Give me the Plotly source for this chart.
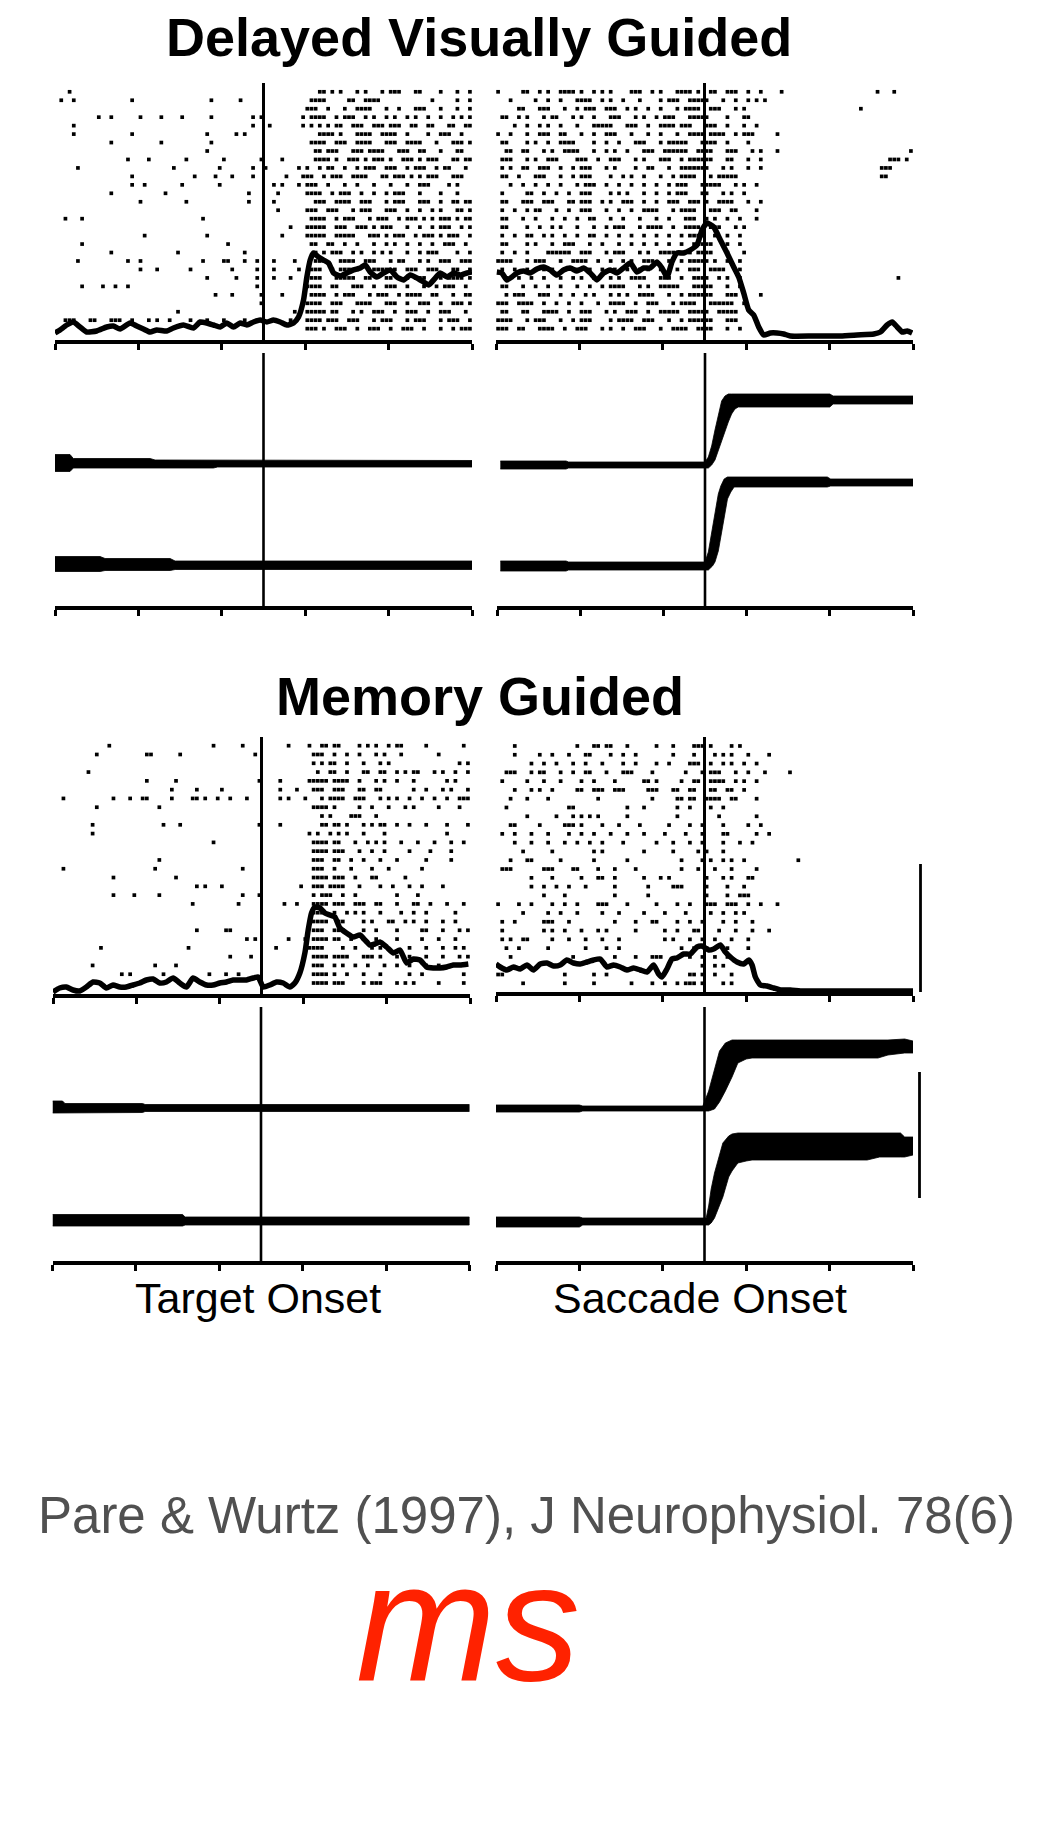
import plotly.graph_objects as go

W, H = 1054, 1824

# ---------------- data ----------------
TIME_RANGE_MS = [-250, 250]
TICK_MS = [-250, -150, -50, 50, 150, 250]
EVENT_MS = 0
BIN_MS = 5  # raster token k -> spike in bin starting at -250 + 5k ms

TITLES = ["Delayed Visually Guided", "Memory Guided"]
ALIGN_LABELS = ["Target Onset", "Saccade Onset"]
CITATION = "Pare & Wurtz (1997), J Neurophysiol. 78(6)"
UNIT_LABEL = "ms"

# Raster rows, top trial first. Tokens are 5-ms bin indices or ranges "a-b".
DVG_TARGET_RASTER = [
    "3 63-64 66 68 72 74 78 80-82 86-87 92 96 99",
    "1 4 18 37 44 61-64 70-71 74-77 90 96 99",
    "60-62 65 69 72-75 79 82 86-88 92 96 99",
    "10 13 20 25 30 37 47 49 59 61-64 67 69-71 74 76 79 81 84 86 89 92 95 97 99",
    "4 47 51 59 61 63 65 67-68 71-73 76-78 80-82 85-86 89-90 94-95 98-99",
    "4 18 36 43 45 63-66 68 72-75 78-81 84 89 92-94 97",
    "13 25 37 61-64 67-69 72-75 79-81 84-87 91 95-97 99",
    "36 62-63 65-67 71-73 75-78 82-84 87-88 92 96-97",
    "17 22 31 40 49 54 62-65 67 70-72 74 76-78 80 83-85 87 89-91 95-96 98-99",
    "5 28 39 47 50 58 60 63 65-66 69 72 74-76 79-81 84 86-88 91 93-94 98",
    "18 33 38 42 47 55 59-61 64 66-68 71-74 78-79 81-83 85 87 89-91 95-97",
    "18 21 30 39 52 54 58 60-62 65 69 72 76 80 84 87-89 94 96",
    "13 26 46 53 60-63 66 68-70 73 76 79 81-83 87 92 96",
    "20 31 46 52 62-64 67-70 73-75 79 81-83 87-89 92 95-96 98-99",
    "53 60-62 65-67 71 73-75 79-81 84 87 90 92 96-97 99",
    "2 6 35 61-64 67 69-71 75 77-79 82 84-86 88 90 92-94 96 98-99",
    "56 60-64 67-69 72-74 76 78-80 84 87 90 92-94 97 99",
    "21 36 54 60-64 67-71 75-77 79 81-83 86 88-90 92 94-96 99",
    "6 41 61-62 65-66 69 72 76 79 81 84 87 90 93-95 98",
    "13 29 45 62 64 66-68 71 73 76 78 80 84 87 89-91 96 99",
    "5 17 20 35 40 41 45 48 52 57 62-64 68-71 74-76 80 82-83 87 89 92-94 97-99",
    "20 24 32 42 48 52 58 61-63 66 68-72 76-79 81 84-86 89-91 95-96 99",
    "36 43 48 52 56 61-63 67-71 74-75 79-80 84 86-88 92 94-97 99",
    "6 11 14 17 48 60-63 66-67 71-73 76 79-81 84 88 91 93-95 98",
    "38 42 49 54 61-64 67 69-71 75 77-79 82 84-87 90-91 95 98-99",
    "49 60-63 66-68 72-75 79-81 84 87-89 92 95-97 99",
    "29 57 60-64 66-67 71 73 76-78 81 84-86 89 92-94 98",
    "2-4 8-9 13-15 18 22 24 27 32 36 40 45 48 52 56 60-63 65-67 70-72 76 78-80 84 86-88 92 94-96 99",
    "60-62 64 67-69 72 75-77 80 83-85 88 92 95 97-99",
]

DVG_SACCADE_RASTER = [
    "0 6-7 10 12 15-18 20 23 25 27 32-34 37 39 43-46 48 51-52 55-57 60 63 68 91 95",
    "3 9 12 15 19-22 25 27 30 34 39 41-43 46-50 54 57 60 62 64",
    "5-6 10-12 16 19 21-23 26-28 31 33 36 39 43 45-48 51-53 57 59 87",
    "1-2 5 7 11 13-14 18 20 23 27-29 33 35 38 40-42 46-50 55 59-60",
    "4 7 10 12 15 19 23-27 31-33 36 39-42 44-46 50-52 55 59 62",
    "0 3 7 10-12 15-16 20 23 26-28 32 36 39 43 46-49 51-54 57 59-61 67",
    "1-2 7 9 12 15-18 23 26 29 33-35 39 41-45 49-52 55 60",
    "2-3 6-7 11 13 16-19 23 26 28 31 35-37 40-45 48-51 55-57 61 63 67 99",
    "1-3 7 9 12-14 19-21 24 27-29 33 35 39-41 44 46-51 55-56 60 63 94-96 98",
    "1 3 6-7 10-12 15 18 20-22 26 28 33 36-37 41 44-50 54 56 60 63 92-94",
    "1-2 5 9-11 15 18 20-22 27 30 32 35 39 42 44-47 51 53-57 92-93",
    "3 6 9 12 15 19 21-23 26 29 32 35 38 41 43-45 49-53 57 59 62",
    "1 7-8 11 14 17 20-22 27 29 31 35 38 41 43-45 49-50 54 56 59",
    "1-2 6-8 11-13 17-18 20-22 25 27 30-32 35 38 41-43 46-48 50 53-56 60 63",
    "1 4 7 9-10 14 17 20-22 26 29 32 35-38 42 44-47 51-53 56-57 62",
    "1-2 6 9 13 16 19 22-23 27 30 34 38 41 45-47 50 52 55 58 62",
    "1-2 7 10 13 15 19 23 26 28-30 34 36-39 42 45-48 51-53 57 59",
    "1 4 7-8 11 13 16 19 22-23 26 29 32 35 38 41 44 46-49 52 55 58",
    "1-2 7 9 13 16-18 22 25 29 32 35 38 41 44 47-51 55 58",
    "1 4 7 12-17 20-22 26 28-30 34 36 39-42 46 48-51 55 59",
    "0-3 7 9-11 15 18-21 24 27 30 32 35-37 41 44 46-50 52 55 58",
    "1 4 7 11 13 16 19 22 25 28 31 34 36 39 43 46-48 51-54 58",
    "2 5 8 11 15 18 20 23 27 29 32-35 39-41 44 47-50 53 55 58 96",
    "1-2 6 9 12 15 19 22 25 27-30 34 36 39-43 47-51 55 58",
    "2 4-6 10-12 15 18 21 23 27 29 31 34-37 41 44 46-51 55-57 63",
    "0-2 5-8 11 14 17 20 24 27-30 33 36-38 42 44-47 51-56 59",
    "1-2 6-7 11-14 17 20-22 26 28 31-33 36 39-43 46-50 53-57",
    "0-3 7 9-11 15 18 20-22 27 29-32 35-37 41 44 46-51 55-57",
    "0-2 5-6 10-13 16 19-21 25 27 30 33-35 39 42-45 48-51 55 58",
]

MG_TARGET_RASTER = [
    "13 38 45 56 61 64-65 67-68 73 75 77 80 82-83 89 98",
    "10 22-23 30 48 62-64 67 70 73 77 79 83 92",
    "62 64 66-67 70 74 78 80 97 99",
    "8 63 66-67 70 74-75 78-79 82 84 86-87 91 93 96 99",
    "22 29 49 54 61-65 67-70 73 77 79 82 86 94 96",
    "28 34 40 54 58 62-64 67-69 73-74 77-78 86 89 93 95 99",
    "2 14 18 21-22 28 33-34 36 39 42 46 54 56 60 64 66-69 72-74 78 80 82 85 88 91 94 97-99",
    "10 25 62-65 67 73 76 80 84 86 92 97",
    "64 66 71-73 77",
    "9 26 30 49 54 64-65 67-68 70 74 76 78-79 82 85 89 94 99",
    "9 61 63 66 68 70 74 79 94",
    "38 62-65 67-68 72 75 77 79 83 87 91 95 98",
    "62-65 67-69 73 76 79 85 90 95",
    "25 62-64 67-68 71 74 78 82 89 95",
    "2 24 45 62-64 67 71 76 80 88",
    "14 29 62-65 67-69 72 76-77 84",
    "34 36 40 59 62-64 66-69 73 78 81 85 88 93",
    "14 19 25 45 49 62 64-66 69 72 82 87",
    "33 44 55 58 62-65 67-69 72-74 77-78 82 86-87 90 94 98",
    "62-64 67 70 72 74 78 83 86 89 96",
    "62-65 68-69 74 76 80-81 84 86 89 93 96",
    "34 41-42 62-64 67-69 74 77 82 88-89 93 97 99",
    "46 48 56 60 62-65 67-68 71 74 77 82 88 92 96",
    "11 32 53 61-64 69 72 76 78 85 89 93 96 98",
    "42 47 62-65 67-70 74-76 78 82 85 89 93 97 99",
    "9 24 29 62-64 67 69 72 75 79 82 85 89 92",
    "16 18 26 37 41 44 62-65 67 70 74 78 85 88 98",
    "62-65 67-69 74 76-78 82 84 86 92 98",
]

MG_SACCADE_RASTER = [
    "4 19 23-24 26-27 31 38 42 47-49 51 56 58",
    "4 10 13 17 21-22 27 30 33 42 47 52 54 56 60 65",
    "8 11 14 18 21 25 30 33 38 41 46-48 51 54 56 59 62",
    "2-4 8 10-11 15 18 21-22 26 30-32 37 45 49 51-53 57 60 64 70",
    "1 7 11 15 20 23 28 35-36 38 44 47-48 51-54 57 59 62",
    "4 8 10 13 19-20 23-25 28-30 36-38 42-43 46-47 51-52 55-56 59",
    "3 7 12 24 37 43-44 46-47 50-53 56-57 62",
    "2 17-18 31 35 43 46 51 54",
    "7 14 18 20 22 24 31 43 53 62",
    "3-4 10 16-18 20 25 29 34 41 46 49 54 60 63",
    "1 4 8 12 17 20 23 27 31 35 40 45 49 54-55 62 65",
    "4 8 12 16 19 22 25 30 38 42 46 49 54 58 61",
    "6 13 23 25 35 42 48 50 54",
    "3 7-8 15 23 31 44 49 51 54 56 59 72",
    "1-3 11-13 18-19 24 28 33 44 48 52 56 62",
    "8 13 20 24-25 28 35 39 41 50 54 56 60-61",
    "8 11 14 17 21 28 36 42-44 50 55 59",
    "11 16 28 36 50 55 58-60",
    "0 5 8 13 16 19 24-26 31 38 43 46 50-52 55-57 60 63 67",
    "6 12 15 19 25 29 35 40 45 51 54 57 59",
    "1 4 11-13 17 28 33 37-38 43 46 49 54 57 61",
    "1 11 13 16 20 24 26 33 40 43 47-48 53 57 61 65",
    "1 3 6-7 13 17 21 25 29 40 42 46 49 52 56 60",
    "2 5 12 21 26 29 44 47 50 52 55 60",
    "3 18 28 33 37-39 46 49 52 55",
    "49 52 54",
    "0-1 16 23 26 46-47 49 52 56",
    "6 16 23 32 37 40 43 45-47 49 54 56",
]

# Spike density functions (time ms, rate sp/s)
DVG_TARGET_SDF_T = [-250, -244, -236, -228, -220, -212, -200, -188, -180, -172, -160, -152, -144, -136, -128,
                    -116, -108, -96, -84, -76, -68, -60, -52, -44, -36, -28, -20, -12, -4, 4, 12, 20, 28, 36, 42,
                    48, 52, 56, 60, 66, 72, 78, 84, 92, 100, 108, 116, 122, 128, 136, 144, 152, 160, 168, 176,
                    184, 192, 198, 204, 212, 220, 228, 236, 244, 250]
DVG_TARGET_SDF = [7, 10, 15, 18, 13, 8, 9, 13, 14, 11, 17, 14, 11, 8, 10, 9, 12, 15, 12, 18, 17, 15, 13, 17, 13,
                  17, 15, 18, 20, 18, 20, 18, 15, 17, 23, 40, 63, 80, 87, 83, 80, 77, 67, 64, 67, 70, 72, 75, 68,
                  63, 67, 70, 63, 60, 65, 62, 58, 55, 60, 67, 63, 67, 65, 67, 68]

DVG_SACCADE_SDF_T = [-249, -243, -237, -231, -225, -217, -209, -201, -193, -185, -177, -169, -161, -153, -145,
                     -137, -129, -121, -113, -105, -97, -89, -81, -73, -65, -57, -51, -45, -39, -33, -25, -17, -9,
                     -3, 3, 11, 19, 27, 35, 41, 47, 53, 59, 65, 71, 79, 87, 95, 103, 131, 163, 183, 203, 211, 219,
                     225, 231, 237, 243, 249]
DVG_SACCADE_SDF = [68, 67, 60, 63, 67, 69, 67, 71, 73, 70, 65, 70, 72, 69, 72, 67, 60, 67, 70, 67, 72, 77, 68, 72,
                   72, 78, 72, 63, 78, 87, 87, 90, 95, 110, 117, 113, 100, 87, 73, 63, 47, 30, 25, 13, 5, 7, 7, 6,
                   4, 4, 4, 5, 6, 8, 15, 18, 13, 8, 9, 7]

MG_TARGET_SDF_T = [-250, -242, -234, -226, -218, -210, -202, -194, -186, -178, -170, -162, -154, -146, -138, -130,
                   -122, -114, -106, -98, -90, -82, -74, -66, -58, -50, -42, -34, -26, -18, -10, -4, 2, 10, 18, 26,
                   34, 40, 46, 52, 56, 60, 64, 70, 76, 82, 88, 94, 102, 110, 118, 124, 130, 136, 142, 150, 158,
                   166, 174, 182, 190, 198, 206, 214, 222, 230, 238, 248]
MG_TARGET_SDF = [2, 6, 7, 4, 3, 7, 12, 11, 6, 9, 7, 7, 9, 11, 14, 15, 11, 12, 16, 11, 7, 16, 12, 9, 9, 11, 12, 14,
                 14, 14, 16, 17, 7, 9, 12, 11, 7, 11, 21, 41, 64, 81, 87, 86, 81, 79, 77, 66, 61, 57, 59, 54, 49,
                 50, 52, 47, 41, 44, 31, 35, 34, 27, 26, 26, 27, 29, 29, 30]

MG_SACCADE_SDF_T = [-250, -245, -237, -229, -221, -213, -205, -197, -189, -181, -173, -165, -157, -149, -141, -133,
                    -125, -117, -109, -101, -93, -85, -77, -69, -61, -55, -51, -45, -39, -33, -25, -17, -9, -3, 5,
                    11, 19, 25, 31, 39, 47, 53, 57, 61, 67, 75, 83, 91, 103, 115, 131, 171, 211, 250]
MG_SACCADE_SDF = [28, 25, 22, 25, 23, 27, 22, 28, 29, 26, 27, 32, 29, 28, 30, 32, 33, 25, 27, 25, 22, 24, 22, 20,
                  27, 18, 15, 23, 33, 34, 38, 38, 45, 46, 42, 43, 47, 40, 35, 30, 28, 32, 27, 15, 7, 6, 4, 2, 2,
                  1, 1, 1, 1, 1]

# Eye position envelopes across trials (deg, display offsets): time, upper edge, lower edge
DVG_TARGET_EYE_H_T = [-250, -232, -228, -136, -130, -60, -55, 250]
DVG_TARGET_EYE_H_HI = [15.15, 15.15, 14.75, 14.75, 14.6, 14.6, 14.55, 14.55]
DVG_TARGET_EYE_H_LO = [13.45, 13.45, 13.8, 13.8, 13.8, 13.8, 13.9, 13.9]
DVG_TARGET_EYE_V_T = [-250, -196, -190, -112, -106, 250]
DVG_TARGET_EYE_V_HI = [4.95, 4.95, 4.75, 4.75, 4.5, 4.5]
DVG_TARGET_EYE_V_LO = [3.45, 3.45, 3.55, 3.55, 3.65, 3.65]

DVG_SACCADE_EYE_H_T = [-246, -167, -164, 0, 4, 8, 12, 16, 20, 24, 28, 32, 36, 40, 150, 154, 250]
DVG_SACCADE_EYE_H_HI = [14.5, 14.5, 14.4, 14.4, 14.9, 16.0, 17.6, 19.2, 20.5, 21.0, 21.2, 21.2, 21.2, 21.2,
                        21.2, 21.0, 21.0]
DVG_SACCADE_EYE_H_LO = [13.7, 13.7, 13.8, 13.8, 13.8, 14.1, 14.6, 15.4, 16.4, 17.4, 18.4, 19.2, 19.7, 19.9,
                        19.9, 20.2, 20.2]
DVG_SACCADE_EYE_V_T = [-246, -167, -164, 0, 4, 9, 12, 16, 19, 23, 27, 31, 35, 42, 147, 151, 250]
DVG_SACCADE_EYE_V_HI = [4.5, 4.5, 4.4, 4.4, 5.4, 7.7, 9.2, 11.2, 12.0, 12.7, 12.9, 12.9, 12.9, 12.9, 12.9, 12.7,
                        12.7]
DVG_SACCADE_EYE_V_LO = [3.5, 3.5, 3.6, 3.6, 3.6, 4.0, 4.4, 5.5, 6.9, 8.8, 10.7, 11.4, 11.9, 11.9, 11.9, 12.0,
                        12.0]

MG_TARGET_EYE_H_T = [-250, -238, -235, -142, -139, 250]
MG_TARGET_EYE_H_HI = [16.0, 16.0, 15.75, 15.75, 15.65, 15.65]
MG_TARGET_EYE_H_LO = [14.8, 14.8, 14.85, 14.85, 14.95, 14.95]
MG_TARGET_EYE_V_T = [-250, -94, -91, 250]
MG_TARGET_EYE_V_HI = [4.65, 4.65, 4.4, 4.4]
MG_TARGET_EYE_V_LO = [3.5, 3.5, 3.6, 3.6]

MG_SACCADE_EYE_H_T = [-250, -150, -146, -2, 5, 12, 18, 25, 33, 40, 50, 57, 208, 220, 240, 250]
MG_SACCADE_EYE_H_HI = [15.6, 15.6, 15.5, 15.5, 17.0, 19.3, 21.0, 21.8, 22.1, 22.1, 22.1, 22.1, 22.1, 22.1, 22.2,
                       22.0]
MG_SACCADE_EYE_H_LO = [14.9, 14.9, 15.0, 15.0, 15.0, 15.2, 15.9, 17.0, 18.4, 19.8, 20.2, 20.3, 20.3, 20.6, 20.8,
                       20.8]
MG_SACCADE_EYE_V_T = [-250, -150, -146, 2, 5, 8, 12, 18, 22, 29, 33, 40, 50, 57, 195, 210, 235, 240, 250]
MG_SACCADE_EYE_V_HI = [4.4, 4.4, 4.3, 4.3, 5.5, 7.2, 8.8, 10.5, 11.8, 12.5, 12.7, 12.8, 12.8, 12.8, 12.8, 12.8,
                       12.8, 12.4, 12.4]
MG_SACCADE_EYE_V_LO = [3.4, 3.4, 3.6, 3.6, 3.6, 3.8, 4.3, 5.6, 6.4, 8.4, 9.0, 9.8, 10.0, 10.1, 10.1, 10.4, 10.4,
                       10.4, 10.6]

RATE_SCALE_BAR = 128       # sp/s
EYE_SCALE_BAR = [6.3, 18.9]  # deg

# ---------------- helpers ----------------
FONT = "Liberation Sans, Arial, Helvetica, sans-serif"


def xd(l, r):
    return [l / W, r / W]


def yd(top, bot):
    return [1 - bot / H, 1 - top / H]


def parse_raster(rows):
    xs, ys = [], []
    n = len(rows)
    for i, row in enumerate(rows):
        trial = n - i
        for tok in row.split():
            if "-" in tok:
                a, b = map(int, tok.split("-"))
                bins = range(a, b + 1)
            else:
                bins = [int(tok)]
            for k in bins:
                xs.append(TIME_RANGE_MS[0] + BIN_MS * k + BIN_MS / 2)
                ys.append(trial)
    return xs, ys


def time_axis(dom, anchor):
    return dict(domain=dom, anchor=anchor, range=TIME_RANGE_MS, tickvals=TICK_MS, ticks="outside",
                ticklen=6, tickwidth=2.5, tickcolor="black", showticklabels=False, showline=True,
                linewidth=3.5, linecolor="black", showgrid=False, zeroline=False, fixedrange=True)


def hidden_axis(**kw):
    d = dict(visible=False, showgrid=False, zeroline=False, fixedrange=True)
    d.update(kw)
    return d


RASTER_PANELS = [
    dict(x=(55, 472), y=(83, 340), rows=DVG_TARGET_RASTER, t=DVG_TARGET_SDF_T, r=DVG_TARGET_SDF,
         trials=[-0.34, 30.04], rate=[0, 257]),
    dict(x=(496, 913), y=(83, 340), rows=DVG_SACCADE_RASTER, t=DVG_SACCADE_SDF_T, r=DVG_SACCADE_SDF,
         trials=[-0.34, 30.04], rate=[0, 257]),
    dict(x=(53, 470), y=(737, 994), rows=MG_TARGET_RASTER, t=MG_TARGET_SDF_T, r=MG_TARGET_SDF,
         trials=[-0.25, 28.99], rate=[0, 257]),
    dict(x=(496, 913), y=(737, 992), rows=MG_SACCADE_RASTER, t=MG_SACCADE_SDF_T, r=MG_SACCADE_SDF,
         trials=[0.01, 29.02], rate=[0, 255]),
]

EYE_PANELS = [
    dict(x=(55, 472), y=(353, 606), rng=[0, 25.3],
         bands=[(DVG_TARGET_EYE_H_T, DVG_TARGET_EYE_H_HI, DVG_TARGET_EYE_H_LO),
                (DVG_TARGET_EYE_V_T, DVG_TARGET_EYE_V_HI, DVG_TARGET_EYE_V_LO)]),
    dict(x=(497, 913), y=(353, 606), rng=[0, 25.3],
         bands=[(DVG_SACCADE_EYE_H_T, DVG_SACCADE_EYE_H_HI, DVG_SACCADE_EYE_H_LO),
                (DVG_SACCADE_EYE_V_T, DVG_SACCADE_EYE_V_HI, DVG_SACCADE_EYE_V_LO)]),
    dict(x=(52.5, 469.5), y=(1007, 1261), rng=[0, 25.4],
         bands=[(MG_TARGET_EYE_H_T, MG_TARGET_EYE_H_HI, MG_TARGET_EYE_H_LO),
                (MG_TARGET_EYE_V_T, MG_TARGET_EYE_V_HI, MG_TARGET_EYE_V_LO)]),
    dict(x=(496, 913), y=(1007, 1261), rng=[0, 25.4],
         bands=[(MG_SACCADE_EYE_H_T, MG_SACCADE_EYE_H_HI, MG_SACCADE_EYE_H_LO),
                (MG_SACCADE_EYE_V_T, MG_SACCADE_EYE_V_HI, MG_SACCADE_EYE_V_LO)]),
]

fig = go.Figure()
layout = dict(width=W, height=H, margin=dict(l=0, r=0, t=0, b=0), paper_bgcolor="white",
              plot_bgcolor="white", showlegend=False)
shapes = []

xi = 0
yi = 0
for p in RASTER_PANELS:
    xi += 1
    yi += 1
    y_tr = yi
    yi += 1
    y_sdf = yi
    xname = "x" if xi == 1 else f"x{xi}"
    ytr_name = "y" if y_tr == 1 else f"y{y_tr}"
    ysdf_name = f"y{y_sdf}"
    layout["xaxis" if xi == 1 else f"xaxis{xi}"] = time_axis(xd(*p["x"]), ytr_name)
    layout["yaxis" if y_tr == 1 else f"yaxis{y_tr}"] = hidden_axis(domain=yd(*p["y"]), anchor=xname,
                                                                   range=p["trials"])
    layout[f"yaxis{y_sdf}"] = hidden_axis(overlaying=ytr_name, anchor=xname, range=p["rate"])
    sx, sy = parse_raster(p["rows"])
    fig.add_trace(go.Scatter(x=sx, y=sy, mode="markers", xaxis=xname, yaxis=ytr_name,
                             marker=dict(symbol="square", size=3.7, color="black", line=dict(width=0)),
                             hoverinfo="skip"))
    fig.add_trace(go.Scatter(x=p["t"], y=p["r"], mode="lines", xaxis=xname, yaxis=ysdf_name,
                             line=dict(color="black", width=5.5, shape="spline", smoothing=0.5),
                             hoverinfo="skip"))
    shapes.append(dict(type="line", xref=xname, yref=f"{ytr_name} domain", x0=EVENT_MS, x1=EVENT_MS,
                       y0=0, y1=1, line=dict(color="black", width=3.0), layer="above"))

for p in EYE_PANELS:
    xi += 1
    yi += 1
    xname = f"x{xi}"
    yname = f"y{yi}"
    layout[f"xaxis{xi}"] = time_axis(xd(*p["x"]), yname)
    layout[f"yaxis{yi}"] = hidden_axis(domain=yd(*p["y"]), anchor=xname, range=p["rng"])
    for t, hi, lo in p["bands"]:
        fig.add_trace(go.Scatter(x=list(t) + list(t)[::-1], y=list(hi) + list(lo)[::-1], mode="lines",
                                 fill="toself", fillcolor="black", xaxis=xname, yaxis=yname,
                                 line=dict(color="black", width=0.8), hoverinfo="skip"))
    shapes.append(dict(type="line", xref=xname, yref=f"{yname} domain", x0=EVENT_MS, x1=EVENT_MS,
                       y0=0, y1=1, line=dict(color="black", width=2.6), layer="above"))

# scale bars (memory-guided saccade panels)
xi += 1
yi += 1
layout[f"xaxis{xi}"] = hidden_axis(domain=xd(916, 925), anchor=f"y{yi}", range=[0, 1])
layout[f"yaxis{yi}"] = hidden_axis(domain=yd(*RASTER_PANELS[3]["y"]), anchor=f"x{xi}",
                                   range=RASTER_PANELS[3]["rate"])
fig.add_trace(go.Scatter(x=[0.5, 0.5], y=[0, RATE_SCALE_BAR], mode="lines", xaxis=f"x{xi}", yaxis=f"y{yi}",
                         line=dict(color="black", width=2.8), hoverinfo="skip"))
xi += 1
yi += 1
layout[f"xaxis{xi}"] = hidden_axis(domain=xd(915, 924), anchor=f"y{yi}", range=[0, 1])
layout[f"yaxis{yi}"] = hidden_axis(domain=yd(*EYE_PANELS[3]["y"]), anchor=f"x{xi}", range=EYE_PANELS[3]["rng"])
fig.add_trace(go.Scatter(x=[0.5, 0.5], y=EYE_SCALE_BAR, mode="lines", xaxis=f"x{xi}", yaxis=f"y{yi}",
                         line=dict(color="black", width=2.8), hoverinfo="skip"))


def ann(text, x, y, size, color="black"):
    return dict(text=text, x=x / W, y=1 - y / H, xref="paper", yref="paper", xanchor="center",
                yanchor="middle", showarrow=False, font=dict(family=FONT, size=size, color=color))


annotations = [
    ann(f"<b>{TITLES[0]}</b>", 479, 37, 54),
    ann(f"<b>{TITLES[1]}</b>", 480, 696, 54),
    ann(ALIGN_LABELS[0], 258, 1298, 43),
    ann(ALIGN_LABELS[1], 700, 1298, 43),
    ann(CITATION, 526, 1515, 51, "#505050"),
    ann(f"<i>{UNIT_LABEL}</i>", 468, 1622, 168, "#ff2200"),
]

layout["shapes"] = shapes
layout["annotations"] = annotations
fig.update_layout(**layout)

fig.write_html("out.html", config={"displayModeBar": False})
